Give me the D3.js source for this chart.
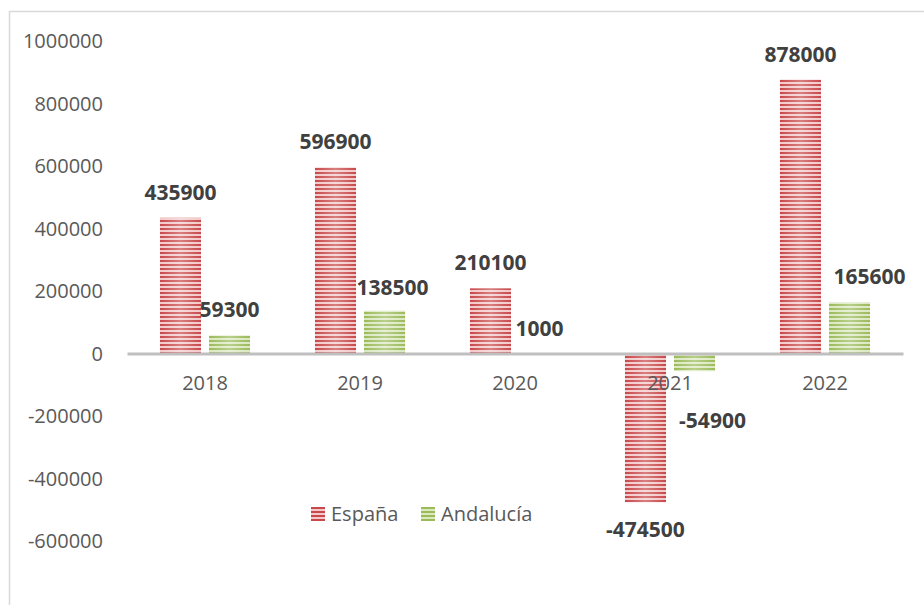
<!DOCTYPE html>
<html>
<head>
<meta charset="utf-8">
<script src="https://cdn.jsdelivr.net/npm/d3@7"></script>
<style>
  body { margin: 0; background: #fff; }
  svg text { font-family: "Open Sans", "Noto Sans", sans-serif; }
</style>
</head>
<body>
<div id="chart"></div>
<script>
// data
var years     = ["2018", "2019", "2020", "2021", "2022"]
var series    = ["España", "Andalucía"]
var espana    = [435900, 596900, 210100, -474500, 878000]
var andalucia = [59300, 138500, 1000, -54900, 165600]
var yTicks    = [-600000, -400000, -200000, 0, 200000, 400000, 600000, 800000, 1000000]

// small manual nudges of some data labels (as in the original chart)
var labelNudge = {
   "Andalucía-2019": [8, 2],
   "Andalucía-2021": [18, 22],
   "Andalucía-2022": [20, 0]
}

var svgWidth  = 924
var svgHeight = 605

var colors = {
   "España":    { dark: "#c8484b", light: "#f3c9c9" },
   "Andalucía": { dark: "#9bbb59", light: "#dbe8c2" }
}

var svg = d3.select("#chart")
.append("svg")
.attr("width", svgWidth)
.attr("height", svgHeight)

var defs = svg.append("defs")

// striped fills
series.forEach(function(s, i){
   var p = defs.append("pattern")
   .attr("id", "stripe" + i)
   .attr("patternUnits", "userSpaceOnUse")
   .attr("width", 8)
   .attr("height", 4)
   p.append("rect").attr("width", 8).attr("height", 4).attr("fill", colors[s].light)
   p.append("rect").attr("width", 8).attr("height", 2).attr("fill", colors[s].dark)
})

// soft highlight across each bar
var g = defs.append("linearGradient").attr("id", "shine")
g.append("stop").attr("offset", "0%").attr("stop-color", "#fff").attr("stop-opacity", 0)
g.append("stop").attr("offset", "50%").attr("stop-color", "#fff").attr("stop-opacity", 0.3)
g.append("stop").attr("offset", "100%").attr("stop-color", "#fff").attr("stop-opacity", 0)

// chart border
svg.append("rect")
.attr("x", 9.5)
.attr("y", 11.5)
.attr("width", 940)
.attr("height", 620)
.attr("fill", "none")
.attr("stroke", "#d9d9d9")
.attr("stroke-width", 1.5)

// scales
var y = d3.scaleLinear()
.domain([-600000, 1000000])
.range([541.5, 41.5])

var x0 = d3.scaleBand()
.domain(years)
.range([127.5, 902.5])
.paddingInner(0.419)
.paddingOuter(0.2095)

var x1 = d3.scaleBand()
.domain(series)
.range([0, x0.bandwidth()])
.paddingInner(0.163)

// y axis labels (plain hyphen for negatives, like the original)
var yAxis = svg.append("g")
.attr("transform", "translate(103,0)")
.call(d3.axisLeft(y).tickValues(yTicks).tickSize(0).tickPadding(0).tickFormat(function(d){ return String(d) }))
yAxis.select(".domain").remove()
yAxis.selectAll("text")
.attr("font-size", 20)
.attr("fill", "#595959")
.attr("font-family", "'Open Sans', sans-serif")

// rows of values
var rows = []
years.forEach(function(yr, i){
   rows.push({ series: "España", idx: 0, year: yr, value: espana[i] })
   rows.push({ series: "Andalucía", idx: 1, year: yr, value: andalucia[i] })
})

// bars
var bars = svg.append("g")
bars.selectAll("rect.bar")
.data(rows)
.enter()
.append("rect")
.attr("class", "bar")
.attr("x", function(d){ return x0(d.year) + x1(d.series) })
.attr("y", function(d){ return y(Math.max(0, d.value)) })
.attr("width", x1.bandwidth())
.attr("height", function(d){ return Math.abs(y(d.value) - y(0)) })
.attr("fill", function(d){ return "url(#stripe" + d.idx + ")" })
bars.selectAll("rect.shine")
.data(rows)
.enter()
.append("rect")
.attr("class", "shine")
.attr("x", function(d){ return x0(d.year) + x1(d.series) })
.attr("y", function(d){ return y(Math.max(0, d.value)) })
.attr("width", x1.bandwidth())
.attr("height", function(d){ return Math.abs(y(d.value) - y(0)) })
.attr("fill", "url(#shine)")

// x axis line
svg.append("line")
.attr("x1", x0.range()[0])
.attr("x2", x0.range()[1] + 1)
.attr("y1", y(0))
.attr("y2", y(0))
.attr("stroke", "#bfbfbf")
.attr("stroke-width", 3)

// category labels
var xAxis = svg.append("g")
.attr("transform", "translate(0," + (y(0) + 22) + ")")
.call(d3.axisBottom(x0).tickSize(0).tickPadding(0))
xAxis.select(".domain").remove()
xAxis.selectAll("text")
.attr("font-size", 20)
.attr("fill", "#595959")
.attr("font-family", "'Open Sans', sans-serif")

// data labels
svg.append("g")
.selectAll("text")
.data(rows)
.enter()
.append("text")
.attr("x", function(d){
   var n = labelNudge[d.series + "-" + d.year] || [0, 0]
   return x0(d.year) + x1(d.series) + x1.bandwidth() / 2 + n[0]
})
.attr("y", function(d){
   var n = labelNudge[d.series + "-" + d.year] || [0, 0]
   var base = d.value >= 0 ? y(d.value) - 18 : y(d.value) + 35
   return base + n[1]
})
.attr("text-anchor", "middle")
.attr("font-size", 21)
.attr("font-weight", "bold")
.attr("fill", "#404040")
.text(function(d){ return d.value })

// legend
var legend = svg.append("g")
.selectAll("g")
.data(series)
.enter()
.append("g")
.attr("transform", function(d, i){ return "translate(" + (311 + i * 110) + ",507)" })
legend.append("rect")
.attr("width", 14)
.attr("height", 14)
.attr("fill", function(d, i){ return "url(#stripe" + i + ")" })
legend.append("text")
.attr("x", 20)
.attr("y", 14)
.attr("font-size", 20)
.attr("fill", "#595959")
.text(function(d){ return d })
</script>
</body>
</html>
